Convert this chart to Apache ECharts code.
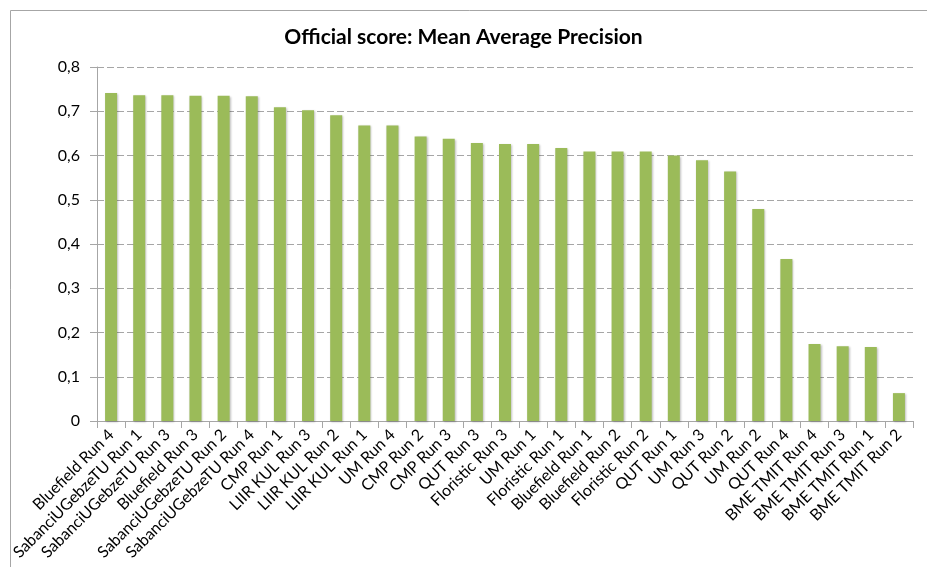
<!DOCTYPE html>
<html>
<head>
<meta charset="utf-8">
<script src="https://cdn.jsdelivr.net/npm/echarts@6/dist/echarts.min.js"></script>
<style>
html,body{margin:0;padding:0;background:#fff;}
#c{width:927px;height:567px;}
</style>
</head>
<body>
<div id="c"></div>
<script>
const titleText = 'Official score: Mean Average Precision';
const categories = [
  'Bluefield Run 4','SabanciUGebzeTU Run 1','SabanciUGebzeTU Run 3','Bluefield Run 3',
  'SabanciUGebzeTU Run 2','SabanciUGebzeTU Run 4','CMP Run 1','LIIR KUL Run 3',
  'LIIR KUL Run 2','LIIR KUL Run 1','UM Run 4','CMP Run 2','CMP Run 3','QUT Run 3',
  'Floristic Run 3','UM Run 1','Floristic Run 1','Bluefield Run 1','Bluefield Run 2',
  'Floristic Run 2','QUT Run 1','UM Run 3','QUT Run 2','UM Run 2','QUT Run 4',
  'BME TMIT Run 4','BME TMIT Run 3','BME TMIT Run 1','BME TMIT Run 2'
];
const mapValues = [
  0.741,0.736,0.736,0.735,0.735,0.734,0.709,0.702,0.691,0.668,0.668,0.643,0.638,0.628,
  0.626,0.626,0.617,0.609,0.609,0.609,0.600,0.589,0.564,0.479,0.366,0.174,0.169,0.167,0.063
];
const yMin = 0, yMax = 0.8, yStep = 0.1;

const chart = echarts.init(document.getElementById('c'), null, {renderer:'canvas'});
chart.setOption({
  animation:false,
  backgroundColor:'#ffffff',
  textStyle:{fontFamily:'Lato, Carlito, "Open Sans", sans-serif', color:'#000'},
  title:{
    text:titleText, left:'center', top:22,
    textStyle:{fontFamily:'Lato, sans-serif', fontWeight:'bold', fontSize:21, color:'#000'}
  },
  graphic:[{
    type:'rect', left:8, top:8, shape:{width:1000, height:700},
    style:{fill:'none', stroke:'#a6a6a6', lineWidth:1}, silent:true, z:-1
  }],
  grid:{left:97, right:14, top:67, bottom:146, containLabel:false},
  xAxis:{
    type:'category', data:categories,
    axisLine:{lineStyle:{color:'#a6a6a6', width:1}},
    axisTick:{show:true, alignWithLabel:false, length:7, lineStyle:{color:'#a6a6a6'}},
    axisLabel:{rotate:45, interval:0, fontSize:16, color:'#000', margin:11, fontFamily:'Lato, sans-serif'}
  },
  yAxis:{
    type:'value', min:yMin, max:yMax, interval:yStep,
    axisLine:{show:true, lineStyle:{color:'#a6a6a6', width:1}},
    axisTick:{show:true, length:7, lineStyle:{color:'#a6a6a6'}},
    axisLabel:{fontSize:16, color:'#000', margin:17, fontFamily:'Lato, sans-serif',
      formatter:v=> v===0 ? '0' : v.toFixed(1).replace('.', ',')},
    splitLine:{show:true, lineStyle:{color:'#a6a6a6', type:[7,3], width:1}}
  },
  series:[{
    type:'bar', data:mapValues, barWidth:12,
    itemStyle:{color:'#9bbb59', shadowBlur:2, shadowColor:'rgba(0,0,0,0.25)', shadowOffsetX:1, shadowOffsetY:1}
  }]
});
</script>
</body>
</html>
